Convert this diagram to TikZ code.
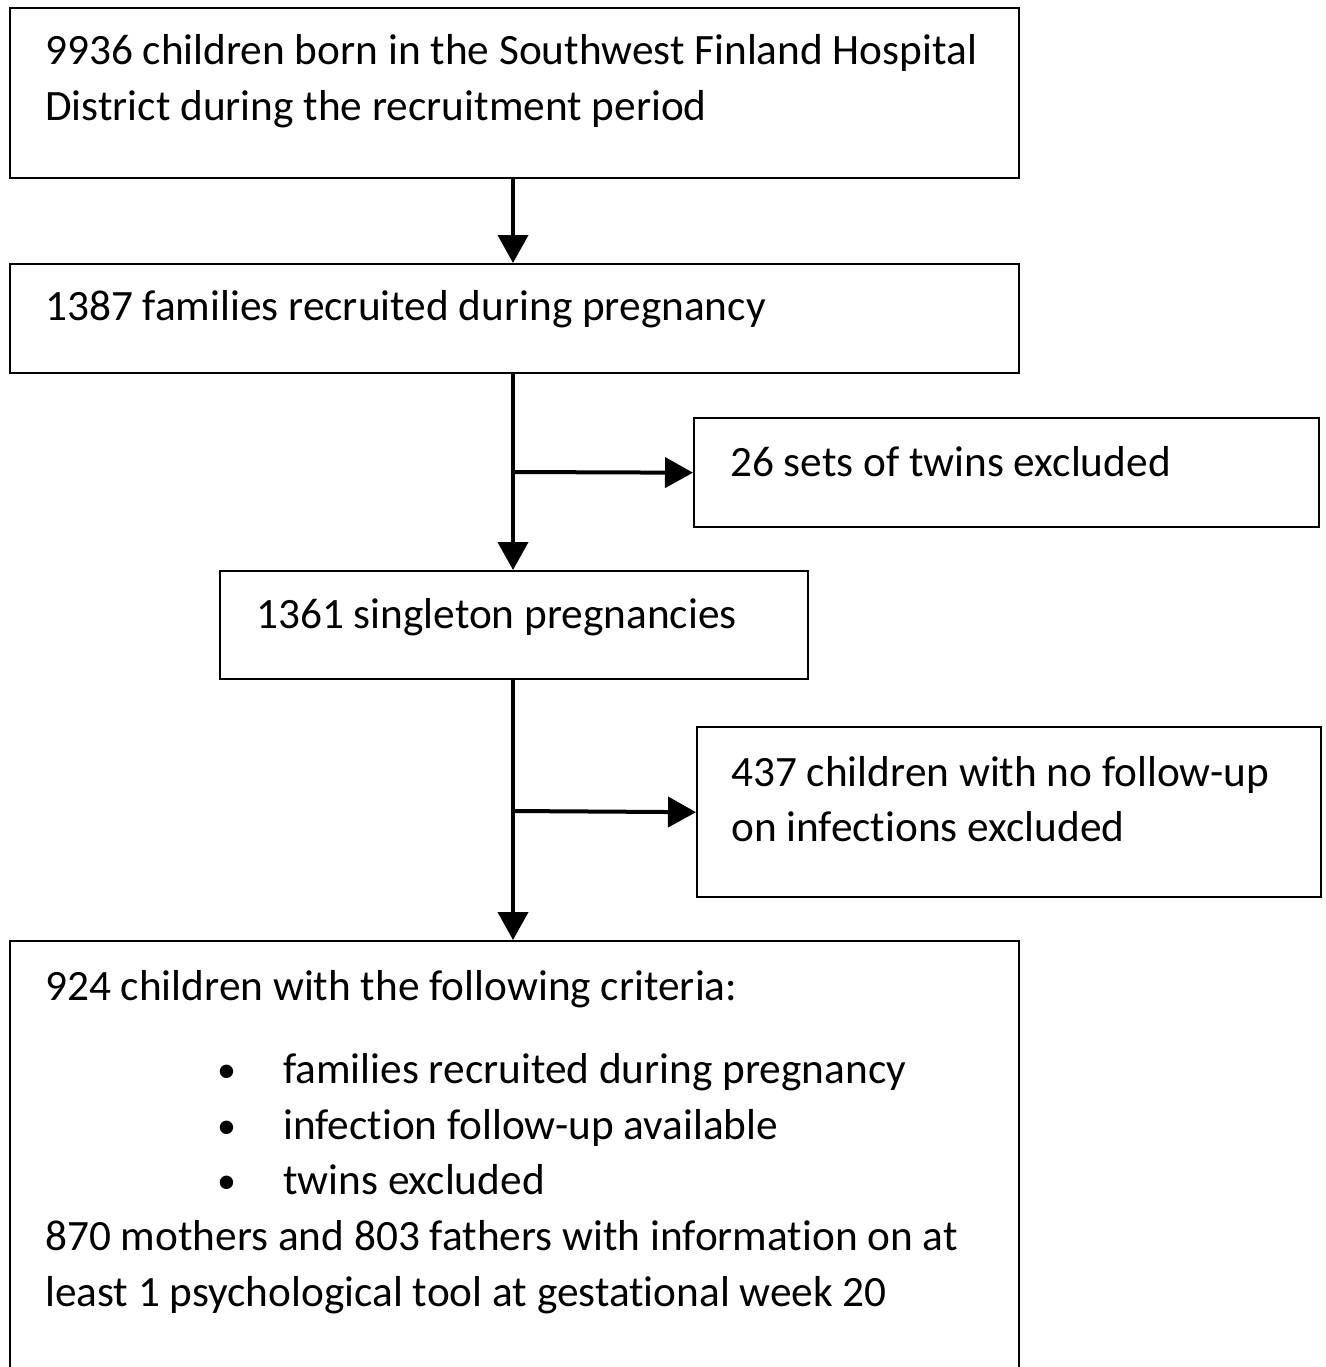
\documentclass[tikz,border=0pt]{standalone}
\usepackage{fontspec}
\setmainfont[Ligatures=NoCommon]{Carlito}
\usetikzlibrary{arrows.meta}
\begin{document}
\begin{tikzpicture}[x=1pt,y=-1pt,
  box/.style={draw=black,line width=2.4pt,inner sep=0pt,anchor=north west},
  txt/.style={anchor=base west,inner sep=0pt,font=\fontsize{43.3}{56}\selectfont},
  bul/.style={anchor=base west,inner sep=0pt,font=\fontsize{38}{56}\selectfont},
  arr/.style={line width=4pt,-{Triangle[width=30pt,length=28pt]}}]
\useasboundingbox (0,0) rectangle (1325,1367);
\fill[white] (0,0) rectangle (1325,1367);
\clip (0,0) rectangle (1325,1367);
% boxes
\node[box,minimum width=1009pt,minimum height=170pt] (b1) at (9,7) {};
\node[box,minimum width=1009pt,minimum height=109pt] (b2) at (9,263) {};
\node[box,minimum width=625pt,minimum height=109pt] (b3) at (693,417) {};
\node[box,minimum width=588pt,minimum height=108pt] (b4) at (219,570) {};
\node[box,minimum width=624pt,minimum height=170pt] (b5) at (696,726) {};
\node[box,minimum width=1009pt,minimum height=500pt] (b6) at (9,940) {};
% texts
\node[txt] (t1a) at (45,65) {9936 children born in the Southwest Finland Hospital};
\node[txt] (t1b) at (45,121) {District during the recruitment period};
\node[txt] (t2) at (45,320) {1387 families recruited during pregnancy};
\node[txt] (t3) at (730,476) {26 sets of twins excluded};
\node[txt] (t4) at (256,628) {1361 singleton pregnancies};
\node[txt] (t5a) at (731,786) {437 children with no follow-up};
\node[txt] (t5b) at (731,841) {on infections excluded};
\node[txt] (t6a) at (45,1000) {924 children with the following criteria:};
\node[bul] (u1) at (217,1082) {•};
\node[txt] (t6b) at (283,1083) {families recruited during pregnancy};
\node[bul] (u2) at (217,1138) {•};
\node[txt] (t6c) at (283,1139) {infection follow-up available};
\node[bul] (u3) at (217,1193) {•};
\node[txt] (t6d) at (283,1194) {twins excluded};
\node[txt] (t6e) at (45,1250) {870 mothers and 803 fathers with information on at};
\node[txt] (t6f) at (45,1306) {least 1 psychological tool at gestational week 20};
% connectors
\coordinate (j1) at (513,472);
\coordinate (j2) at (513,811);
\draw[arr] (b1.south -| j1) -- (b2.north -| j1);
\draw[arr] (b2.south -| j1) -- (b4.north -| j1);
\draw[arr] (j1) -- (b3.west);
\draw[arr] (b4.south -| j2) -- (b6.north -| j2);
\draw[arr] (j2) -- (b5.west);
\end{tikzpicture}
\end{document}
